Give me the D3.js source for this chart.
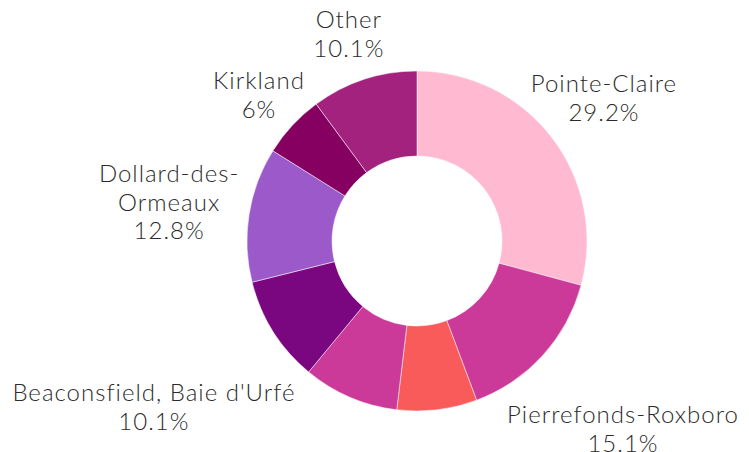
<!DOCTYPE html>
<html>
<head>
<meta charset="utf-8">
<script src="https://cdn.jsdelivr.net/npm/d3@7"></script>
<style>
  html, body { margin: 0; padding: 0; background: #fff; }
  svg { display: block; }
  text { font-family: "Lato", "Open Sans", sans-serif; font-weight: 300; fill: #2b2b2b; letter-spacing: 1px; }
</style>
</head>
<body>
<svg id="chart" width="749" height="452"></svg>
<script>
// ---- data ----
const categories = [
  "Pointe-Claire",
  "Pierrefonds-Roxboro",
  "Sainte-Anne-de-Bellevue",
  "L'Île-Bizard–Sainte-Geneviève",
  "Beaconsfield, Baie d'Urfé",
  "Dollard-des-Ormeaux",
  "Kirkland",
  "Other"
];
const values = [29.2, 15.1, 7.6, 9.1, 10.1, 12.8, 6, 10.1];
const colors = ["#FFB9D0", "#CC3A99", "#F95A5A", "#CC3A99", "#7B0780", "#9B59CA", "#850061", "#A3227E"];
const labelLines = { "Dollard-des-Ormeaux": ["Dollard-des-", "Ormeaux"] };

// ---- layout ----
const width = 749, height = 452;
const cx = 417, cy = 241;
const outerR = 170, innerR = 85;
const fontSize = 24, lineStep = 28.8, capH = 17.5, clearance = 187;

const data = categories.map((c, i) => ({ name: c, value: values[i], color: colors[i] }));

const svg = d3.select("#chart");
const g = svg.append("g").attr("transform", `translate(${cx},${cy})`);

const pie = d3.pie().sort(null).value(d => d.value);
const arc = d3.arc().innerRadius(innerR).outerRadius(outerR);
const arcs = pie(data);

g.selectAll("path.slice")
  .data(arcs)
  .join("path")
  .attr("class", "slice")
  .attr("d", arc)
  .attr("fill", d => d.data.color)
  .attr("stroke", "#fff")
  .attr("stroke-width", 0.5);

// ---- labels ----
const fmt = v => `${+v.toFixed(1)}%`;
const labelLayer = g.append("g");

function rectDist(r) {
  const dx = Math.max(r.x0, 0, -r.x1);
  const dy = Math.max(r.y0, 0, -r.y1);
  return Math.hypot(dx, dy);
}

const order = arcs.slice().sort((a, b) => b.value - a.value);
const placedBlocks = [];

order.forEach(a => {
  const lines = (labelLines[a.data.name] || [a.data.name]).concat([fmt(a.data.value)]);
  const t = labelLayer.append("text")
    .attr("text-anchor", "middle")
    .style("font-size", fontSize + "px");
  const spans = lines.map(l => t.append("tspan").text(l));
  const widths = spans.map(s => s.node().getComputedTextLength());
  const n = lines.length;
  const h = capH + (n - 1) * lineStep;
  const mid = (a.startAngle + a.endAngle) / 2;
  const ux = Math.sin(mid), uy = -Math.cos(mid);

  const boxesAt = d => {
    const bx = d * ux, by = d * uy;
    return lines.map((l, i) => {
      const base = by - h / 2 + capH + i * lineStep;
      return { x0: bx - widths[i] / 2, x1: bx + widths[i] / 2, y0: base - capH, y1: base, base, bx };
    });
  };
  let d = 0;
  while (Math.min(...boxesAt(d).map(rectDist)) < clearance) d += 0.5;
  const boxes = boxesAt(d);
  const block = {
    x0: d3.min(boxes, b => b.x0), x1: d3.max(boxes, b => b.x1),
    y0: d3.min(boxes, b => b.y0), y1: d3.max(boxes, b => b.y1)
  };

  const overlaps = placedBlocks.some(p =>
    block.x0 < p.x1 && block.x1 > p.x0 && block.y0 - 6 < p.y1 && block.y1 + 6 > p.y0);
  if (overlaps) { t.remove(); return; }
  placedBlocks.push(block);
  spans.forEach((s, i) => s.attr("x", boxes[i].bx).attr("y", boxes[i].base));
});
</script>
</body>
</html>
